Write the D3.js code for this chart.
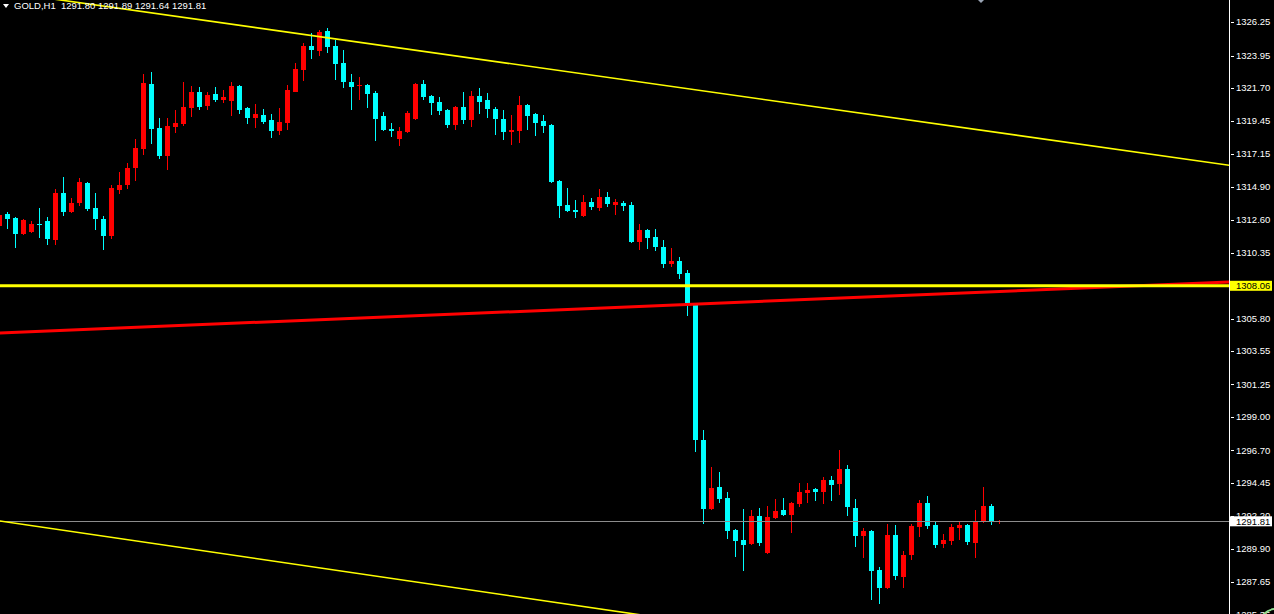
<!DOCTYPE html>
<html><head><meta charset="utf-8">
<script src="https://cdn.jsdelivr.net/npm/d3@7"></script>
<style>html,body{margin:0;padding:0;background:#000;overflow:hidden}</style>
</head><body><svg id="c" width="1274" height="614"></svg>
<script>
const symbolTitle = "GOLD,H1";
const lastBar = [1291.80, 1291.89, 1291.64, 1291.81];

const opens = [
1312.19,1313.01,1312.74,1311.63,1311.77,1312.32,1312.53,1311.22,1314.46,1313.15,
1313.77,1315.15,1313.43,1312.67,1311.50,1314.67,1315.02,1316.19,1317.50,1321.98,
1318.95,1317.02,1319.02,1319.22,1320.33,1321.43,1320.47,1321.29,1320.88,1320.81,
1321.85,1320.33,1319.64,1319.85,1319.50,1318.74,1319.29,1321.43,1322.95,1324.61,
1324.26,1325.64,1324.61,1323.43,1322.12,1321.88,1321.92,1321.36,1319.78,1318.88,
1318.19,1318.67,1319.57,1321.98,1321.16,1320.74,1320.19,1319.16,1320.40,1319.50,
1321.16,1320.88,1320.26,1319.57,1318.67,1318.74,1320.53,1319.91,1319.43,1319.16,
1315.29,1313.64,1313.29,1312.88,1313.84,1313.43,1314.19,1313.64,1313.77,1313.64,
1311.08,1311.91,1311.43,1310.74,1309.56,1309.77,1308.94,1306.87,1297.42,1292.66,
1294.18,1293.42,1291.21,1290.52,1290.24,1292.18,1289.62,1292.04,1292.59,1292.25,
1293.00,1293.76,1294.04,1293.83,1294.66,1294.38,1295.42,1292.73,1290.80,1291.14,
1288.45,1287.21,1290.87,1287.97,1289.48,1291.42,1293.07,1291.55,1290.24,1290.45,
1291.35,1291.55,1290.31,1291.76,1292.87,1291.80];
const highs = [
1313.08,1313.15,1312.81,1312.67,1312.53,1313.43,1312.81,1314.74,1315.57,1314.12,
1315.50,1315.22,1314.46,1312.88,1315.02,1315.91,1316.53,1318.19,1322.67,1322.81,
1319.64,1319.64,1320.19,1322.12,1321.85,1321.78,1321.43,1321.78,1321.57,1322.12,
1321.92,1320.40,1320.60,1320.26,1319.91,1320.33,1321.92,1323.43,1324.81,1325.50,
1325.71,1325.85,1325.02,1324.33,1322.67,1322.47,1321.95,1321.50,1320.05,1319.29,
1319.02,1320.12,1322.05,1322.26,1321.23,1321.09,1320.26,1320.47,1321.43,1321.50,
1321.71,1321.36,1320.40,1320.19,1319.85,1321.16,1320.60,1319.98,1319.85,1319.22,
1315.36,1314.81,1313.98,1314.33,1314.12,1314.74,1314.53,1314.05,1313.91,1313.84,
1312.32,1311.98,1311.98,1311.22,1310.67,1310.05,1309.15,1306.90,1298.11,1295.56,
1295.21,1293.83,1291.28,1292.66,1292.59,1292.73,1292.87,1293.35,1293.42,1293.14,
1294.45,1294.45,1294.10,1294.87,1294.94,1296.73,1295.70,1293.35,1291.35,1291.21,
1288.66,1291.62,1291.55,1289.76,1291.62,1293.28,1293.56,1291.83,1290.93,1291.62,
1291.83,1291.60,1292.59,1294.18,1293.00,1291.89];
const lows = [
1311.98,1311.98,1310.67,1311.57,1311.70,1311.36,1310.88,1310.88,1312.88,1313.08,
1313.57,1313.22,1311.91,1310.53,1311.29,1314.39,1314.74,1315.29,1317.09,1317.84,
1316.81,1316.05,1318.60,1319.09,1319.71,1320.19,1320.19,1320.74,1320.67,1319.78,
1319.91,1319.22,1318.95,1319.22,1318.26,1318.47,1318.81,1321.43,1322.19,1323.71,
1323.92,1324.12,1322.26,1321.71,1320.19,1320.88,1320.33,1318.05,1318.74,1318.33,
1317.71,1318.60,1319.50,1320.88,1319.85,1319.85,1318.95,1318.81,1319.22,1319.02,
1319.91,1319.64,1318.47,1318.12,1317.78,1317.91,1318.81,1318.40,1318.60,1315.15,
1312.74,1313.15,1312.74,1312.81,1313.29,1313.22,1313.50,1312.95,1313.22,1311.01,
1310.53,1310.60,1310.46,1309.29,1309.36,1308.53,1305.98,1296.59,1291.62,1292.59,
1293.07,1290.59,1289.35,1288.38,1290.17,1290.11,1289.55,1291.97,1292.18,1291.00,
1292.80,1293.07,1293.21,1293.00,1293.21,1293.62,1292.18,1290.04,1289.28,1286.38,
1286.10,1287.14,1287.76,1287.21,1289.14,1290.73,1291.28,1289.97,1289.97,1290.17,
1290.52,1290.17,1289.28,1291.70,1291.55,1291.64];
const closes = [
1312.95,1312.67,1311.63,1312.60,1312.32,1312.28,1311.29,1314.46,1313.15,1313.77,
1315.22,1313.36,1312.67,1311.50,1314.81,1315.02,1316.19,1317.57,1322.05,1318.88,
1317.02,1319.09,1319.29,1320.40,1321.43,1320.40,1321.23,1320.88,1321.09,1321.85,
1320.19,1319.64,1319.91,1319.36,1318.74,1319.36,1321.57,1323.02,1324.61,1324.33,
1325.57,1324.54,1323.36,1322.12,1321.78,1321.92,1321.29,1319.57,1318.81,1318.74,
1318.74,1319.98,1321.98,1321.09,1320.67,1320.12,1319.16,1320.40,1319.50,1321.16,
1320.74,1320.26,1319.57,1318.67,1318.81,1320.53,1319.78,1319.29,1319.09,1315.22,
1313.57,1313.22,1313.15,1313.84,1313.50,1314.19,1313.70,1313.84,1313.57,1311.08,
1311.91,1311.36,1310.74,1309.56,1309.77,1308.87,1306.87,1297.42,1292.66,1294.11,
1293.35,1291.14,1290.45,1290.17,1292.18,1290.31,1292.11,1292.52,1292.25,1293.07,
1293.83,1293.97,1293.83,1294.66,1294.32,1295.42,1292.80,1290.80,1291.14,1288.38,
1287.21,1290.87,1288.04,1289.48,1291.49,1293.07,1291.49,1290.17,1290.52,1291.42,
1291.55,1290.38,1291.83,1292.87,1291.76,1291.81];

const priceTicks = ["1326.25","1323.95","1321.70","1319.45","1317.15","1314.90","1312.60","1310.35","1308.05",
  "1305.80","1303.55","1301.25","1299.00","1296.70","1294.45","1292.20","1289.90","1287.65","1285.35"];

// trend lines: anchor bars and prices
const upperChannelBars = [0, 150], upperChannelPrices = [1328.38, 1316.67];
const lowerChannelBars = [0, 80],  lowerChannelPrices = [1291.84, 1285.37];
const redTrendBars = [0, 150],     redTrendPrices = [1304.80, 1308.24];
const levelPrice = 1308.06;
const bidPrice = 1291.81;

const W = 1274, H = 614, plotRight = 1229;
const x = d3.scaleLinear().domain([0, 125]).range([-1, 999]);
const y = d3.scaleLinear().domain([1285.414, 1327.78]).range([H, 0]);

const svg = d3.select('#c');
svg.append('rect').attr('width', W).attr('height', H).attr('fill', '#000');
svg.append('defs').append('clipPath').attr('id', 'plot')
  .append('rect').attr('x', 0).attr('y', 0).attr('width', plotRight).attr('height', H);

const plot = svg.append('g').attr('clip-path', 'url(#plot)');

const bars = d3.range(opens.length).map(i => ({i, o: opens[i], h: highs[i], l: lows[i], c: closes[i]}));
const UP = '#ff0000', DOWN = '#00ffff';
const cg = plot.append('g').attr('shape-rendering', 'crispEdges');
cg.selectAll('line.wick').data(bars).join('line').attr('class', 'wick')
  .attr('x1', d => Math.round(x(d.i)) + 0.5).attr('x2', d => Math.round(x(d.i)) + 0.5)
  .attr('y1', d => y(d.h)).attr('y2', d => y(d.l))
  .attr('stroke', d => d.c >= d.o ? UP : DOWN).attr('stroke-width', 1);
cg.selectAll('rect.body').data(bars).join('rect').attr('class', 'body')
  .attr('x', d => Math.round(x(d.i)) - 2).attr('width', 5)
  .attr('y', d => y(Math.max(d.o, d.c)))
  .attr('height', d => Math.max(1, Math.abs(y(d.o) - y(d.c))))
  .attr('fill', d => d.c >= d.o ? UP : DOWN);

function trend(barsA, pricesA, color, width) {
  const [b0, b1] = barsA, [p0, p1] = pricesA;
  const f = b => p0 + (p1 - p0) * (b - b0) / (b1 - b0);
  const bs = [-2, 170];
  plot.append('line')
    .attr('x1', x(bs[0])).attr('y1', y(f(bs[0])))
    .attr('x2', x(bs[1])).attr('y2', y(f(bs[1])))
    .attr('stroke', color).attr('stroke-width', width);
}
// bid line
plot.append('line').attr('x1', 0).attr('x2', plotRight)
  .attr('y1', Math.round(y(bidPrice)) + 0.5).attr('y2', Math.round(y(bidPrice)) + 0.5)
  .attr('stroke', '#8c8c8c').attr('stroke-width', 1).attr('shape-rendering', 'crispEdges');
trend(upperChannelBars, upperChannelPrices, '#ffff00', 1.6);
trend(lowerChannelBars, lowerChannelPrices, '#ffff00', 1.6);
trend(redTrendBars, redTrendPrices, '#ff0000', 3);
plot.append('line').attr('x1', 0).attr('x2', plotRight)
  .attr('y1', y(levelPrice)).attr('y2', y(levelPrice))
  .attr('stroke', '#ffff00').attr('stroke-width', 3);

// price axis
const ax = svg.append('g').attr('shape-rendering', 'crispEdges');
ax.append('line').attr('x1', plotRight + 0.5).attr('x2', plotRight + 0.5).attr('y1', 0).attr('y2', H)
  .attr('stroke', '#ffffff');
const font = "'Liberation Sans', Arial, sans-serif";
priceTicks.forEach(t => {
  const yy = Math.round(y(+t)) + 0.5;
  ax.append('line').attr('x1', 1231).attr('x2', 1234).attr('y1', yy).attr('y2', yy).attr('stroke', '#fff');
});
svg.append('g').selectAll('text').data(priceTicks).join('text')
  .attr('x', 1236).attr('y', d => y(+d)).attr('dy', '0.35em')
  .attr('fill', '#fff').attr('font-family', font).attr('font-size', 9.5).text(d => d);

function tag(price, bg) {
  const yy = y(price);
  svg.append('rect').attr('x', 1230).attr('y', yy - 5).attr('width', 42).attr('height', 10).attr('fill', bg);
  svg.append('text').attr('x', 1236).attr('y', yy).attr('dy', '0.35em').attr('fill', '#000')
    .attr('font-family', font).attr('font-size', 9.5).text(price.toFixed(2));
}
tag(levelPrice, '#ffff00');
tag(bidPrice, '#ffffff');

// header
svg.append('path').attr('d', 'M3,4 L9,4 L6,8 Z').attr('fill', '#fff');
svg.append('text').attr('x', 14).attr('y', 9).attr('fill', '#fff')
  .attr('font-family', font).attr('font-size', 9.5).attr('xml:space', 'preserve')
  .text(symbolTitle + '  ' + lastBar.map(v => v.toFixed(2)).join(' '));
// shift marker
svg.append('path').attr('d', 'M978,0 L984,0 L981,3 Z').attr('fill', '#9aa4b4');
// corner icon
svg.append('circle').attr('cx', 1276).attr('cy', 626).attr('r', 17).attr('fill', 'none')
  .attr('stroke', '#8fdc8f').attr('stroke-width', 2);
</script></body></html>
